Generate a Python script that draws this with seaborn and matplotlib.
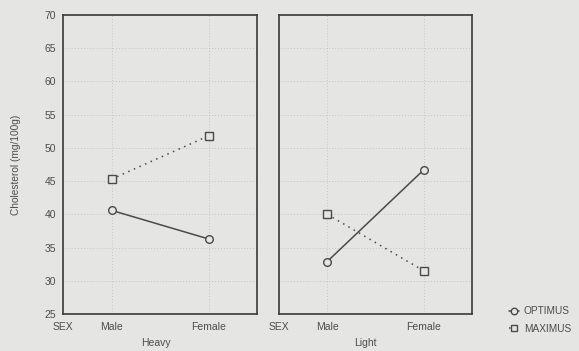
import matplotlib
matplotlib.use("Agg")
import matplotlib.pyplot as plt
import seaborn as sns
import pandas as pd

groups = ["Heavy", "Light"]
sexes = ["Male", "Female"]
products = ["OPTIMUS", "MAXIMUS"]
optimus_heavy = [40.6, 36.3]
maximus_heavy = [45.3, 51.8]
optimus_light = [32.9, 46.7]
maximus_light = [40.0, 31.5]
y_ticks = [25, 30, 35, 40, 45, 50, 55, 60, 65, 70]
x_tick_labels = ["SEX", "Male", "Female"]

values = {
    ("Heavy", "OPTIMUS"): optimus_heavy,
    ("Heavy", "MAXIMUS"): maximus_heavy,
    ("Light", "OPTIMUS"): optimus_light,
    ("Light", "MAXIMUS"): maximus_light,
}
xpos = {"Male": 1, "Female": 3}
rows = []
for (g, p), vals in values.items():
    for s, v in zip(sexes, vals):
        rows.append({"Group": g, "Product": p, "Sex": s, "x": xpos[s], "Cholesterol": v})
df = pd.DataFrame(rows)

bg = "#e5e5e3"
ink = "#4a4a4a"
txt = "#4d4d4d"
sns.set_style("white")
plt.rcParams["font.family"] = ["Liberation Sans", "DejaVu Sans"]

fig = plt.figure(figsize=(5.79, 3.51), dpi=100, facecolor=bg)
W, H = 579, 351
boxes = [(63, 15, 194, 299), (279, 15, 193, 299)]
axes = [fig.add_axes([l / W, 1 - (t + h) / H, w / W, h / H]) for (l, t, w, h) in boxes]

for i, (ax, g) in enumerate(zip(axes, groups)):
    ax.set_facecolor(bg)
    sub = df[df["Group"] == g]
    sns.lineplot(data=sub, x="x", y="Cholesterol", hue="Product", style="Product",
                 hue_order=products, style_order=products,
                 palette={"OPTIMUS": ink, "MAXIMUS": ink},
                 markers={"OPTIMUS": "o", "MAXIMUS": "s"},
                 dashes={"OPTIMUS": "", "MAXIMUS": (1, 3)},
                 markersize=5.5, markerfacecolor=bg, markeredgecolor=ink,
                 markeredgewidth=1.0, linewidth=1.1, ax=ax, legend=(i == 1))
    ax.set_xlim(0, 4)
    ax.set_ylim(25, 70)
    ax.set_xticks([0, 1, 3])
    ax.set_xticklabels(x_tick_labels)
    ax.set_yticks(y_ticks)
    ax.grid(True, linestyle=(0, (1, 2)), color="#c4c4c4", linewidth=0.7)
    ax.set_axisbelow(True)
    for sp in ax.spines.values():
        sp.set_color("#3a3a3a")
        sp.set_linewidth(1.2)
    ax.tick_params(axis="both", direction="in", length=2, width=0.6, color="#555555",
                   labelsize=7.5, labelcolor=txt, pad=6)
    ax.set_xlabel(g, fontsize=7.5, color=txt)
    ax.xaxis.set_label_coords(0.48 if i == 0 else 0.45, -0.08)
    if i == 0:
        ax.set_ylabel("Cholesterol (mg/100g)", fontsize=7.3, color=txt)
        ax.yaxis.set_label_coords(-0.215, 0.5)
        ax.tick_params(axis="y", pad=5)
    else:
        ax.set_ylabel("")
        ax.set_yticklabels([])

leg_ax = axes[1]
handles, labels = leg_ax.get_legend_handles_labels()
leg_ax.get_legend().remove()
fig.legend(handles, labels, loc="upper left", bbox_to_anchor=(500 / W, 1 - 297 / H),
           frameon=False, fontsize=7.3, handlelength=1.0, handletextpad=0.45,
           labelspacing=0.75, labelcolor=txt, markerscale=0.85)

fig.savefig("out.png", dpi=100, facecolor=bg)
